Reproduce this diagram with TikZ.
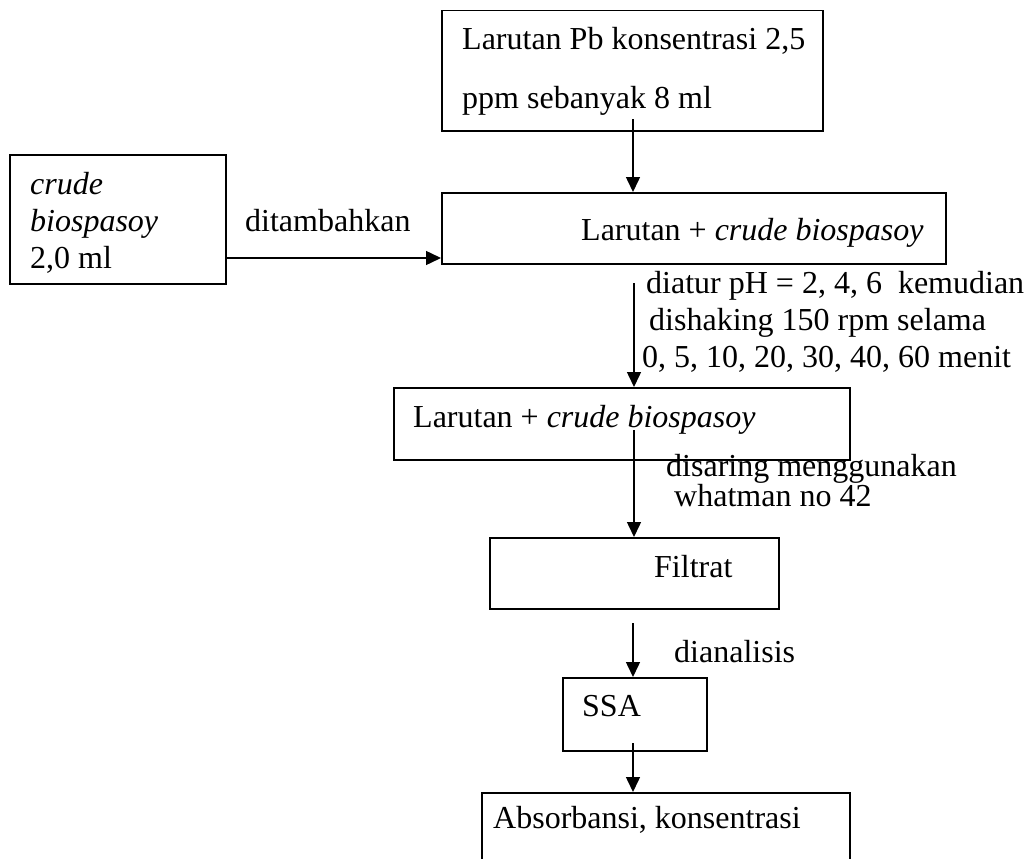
\documentclass[tikz,border=0pt]{standalone}
\usepackage{fontspec}
\setmainfont{Liberation Serif}
\usetikzlibrary{arrows.meta}
\tikzset{
  box/.style={draw, line width=1.5pt, inner sep=0pt, anchor=north west},
  lbl/.style={anchor=base west, inner sep=0pt, font=\fontsize{32}{37}\selectfont},
  arr/.style={line width=1.5pt, -{Triangle[length=15pt,width=14pt]}},
}
\begin{document}
\begin{tikzpicture}[x=1pt, y=-1pt]
  \useasboundingbox (0,0) rectangle (1029,859);

  % boxes
  \node[box, minimum width=381pt, minimum height=120pt] (pb)     at (441,10)  {};
  \node[box, minimum width=216pt, minimum height=129pt] (crude)  at (9,154)   {};
  \node[box, minimum width=504pt, minimum height=71pt]  (mix)    at (441,192) {};
  \node[box, minimum width=456pt, minimum height=72pt]  (shaken) at (393,387) {};
  \node[box, minimum width=289pt, minimum height=71pt]  (filt)   at (489,537) {};
  \node[box, minimum width=144pt, minimum height=73pt]  (ssa)    at (562,677) {};
  \node[box, minimum width=368pt, minimum height=100pt] (result) at (481,792) {};

  % box texts
  \node[lbl] (pbA) at (462,50)  {Larutan Pb konsentrasi 2,5};
  \node[lbl] (pbB) at (462,108) {ppm sebanyak 8 ml};
  \node[lbl] (crA) at (30,194)  {\textit{crude}};
  \node[lbl] (crB) at (30,231)  {\textit{biospasoy}};
  \node[lbl] (crC) at (30,268)  {2,0 ml};
  \node[lbl] (mixT) at (581,240) {Larutan + \textit{crude biospasoy}};
  \node[lbl] (shT)  at (413,427) {Larutan + \textit{crude biospasoy}};
  \node[lbl] (fiT)  at (654,577) {Filtrat};
  \node[lbl] (ssT)  at (582,716) {SSA};
  \node[lbl] (reT)  at (493,828) {Absorbansi, konsentrasi};

  % step labels
  \node[lbl] (add) at (245,231) {ditambahkan};
  \node[lbl] (ph1) at (646,293) {diatur pH = 2, 4, 6\ \ kemudian};
  \node[lbl] (ph2) at (649,330) {dishaking 150 rpm selama};
  \node[lbl] (ph3) at (642,367) {0, 5, 10, 20, 30, 40, 60 menit};
  \node[lbl] (fl1) at (666,476) {disaring menggunakan};
  \node[lbl] (fl2) at (674,506) {whatman no 42};
  \node[lbl] (an)  at (674,662) {dianalisis};

  % arrow starts
  \coordinate (s1) at (633,119);
  \coordinate (s2) at (225,258);
  \coordinate (s3) at (634,283);
  \coordinate (s4) at (634,430);
  \coordinate (s5) at (633,623);
  \coordinate (s6) at (633,743);

  % connectors
  \draw[arr] (s1) -- (s1 |- mix.north);
  \draw[arr] (s2) -- (s2 -| mix.west);
  \draw[arr] (s3) -- (s3 |- shaken.north);
  \draw[arr] (s4) -- (s4 |- filt.north);
  \draw[arr] (s5) -- (s5 |- ssa.north);
  \draw[arr] (s6) -- (s6 |- result.north);
\end{tikzpicture}
\end{document}
